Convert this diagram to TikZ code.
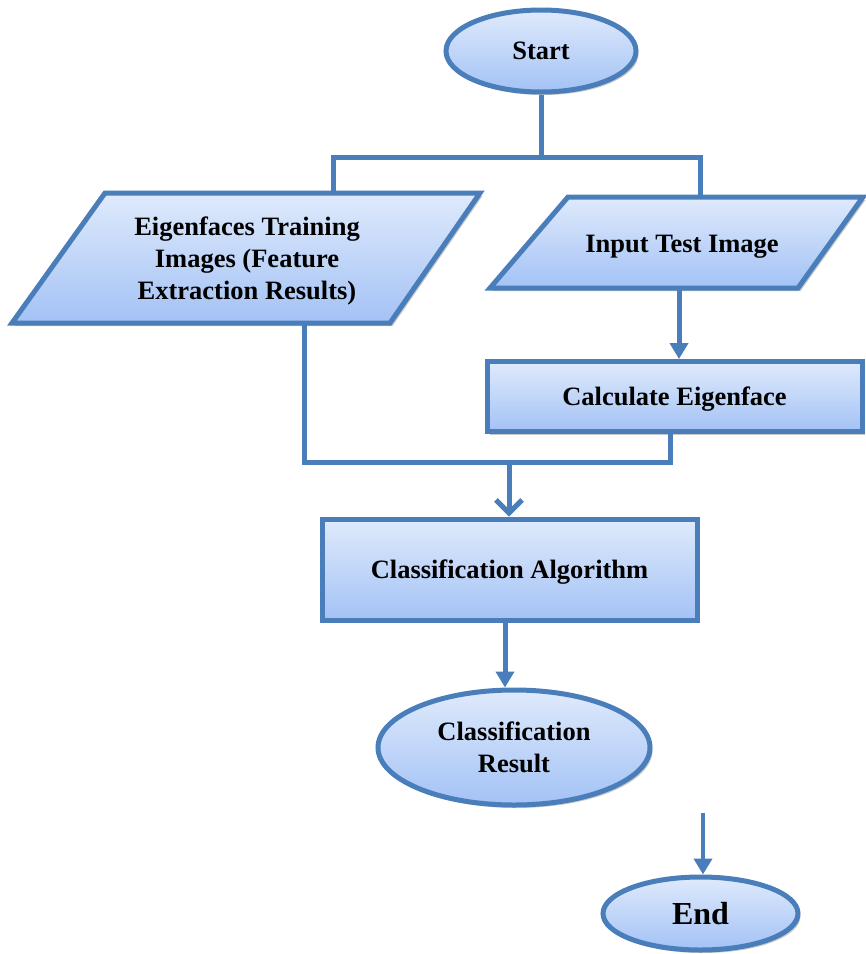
\documentclass[tikz,border=0pt]{standalone}
\usepackage{fontspec}
\setmainfont{Liberation Serif}
\usetikzlibrary{shapes.geometric,arrows.meta,shadows}

\definecolor{edge}{HTML}{4A7EBB}
\definecolor{filltop}{HTML}{DFEAFC}
\definecolor{fillbot}{HTML}{A3C2F5}

\tikzset{
  boxfill/.style={draw=edge, line width=5pt, top color=filltop, bottom color=fillbot,
    drop shadow={shadow xshift=2.5pt, shadow yshift=-3pt, opacity=0.22, fill=black}},
  label text/.style={font=\bfseries\fontsize{26.5}{32}\selectfont, align=center, text=black},
  oneline/.style={text height=17.5pt, text depth=0pt},
  terminal/.style={boxfill, label text, shape=ellipse, inner sep=0pt},
  process/.style={boxfill, label text, shape=rectangle, inner sep=0pt},
  conn/.style={draw=edge, line width=5pt, line join=miter},
  solidtip/.style={conn, -{Triangle[width=18pt,length=16pt]}},
  opentip/.style={conn, -{Straight Barb[width=26pt,length=13pt]}},
}

\begin{document}
\begin{tikzpicture}[x=1pt, y=-1pt]
\useasboundingbox (0,0) rectangle (866,954);

% terminals and processes
\node[terminal, oneline, minimum width=190pt, minimum height=82pt] (start) at (541,51) {Start};
\node[process, oneline, minimum width=375pt, minimum height=70pt] (calc) at (674.5,396.5) {Calculate Eigenface};
\node[process, oneline, minimum width=375pt, minimum height=101pt] (alg) at (509.5,569.5) {Classification Algorithm};
\node[terminal, minimum width=272pt, minimum height=115pt] (res) at (514,747.5) {Classification\\Result};
\node[terminal, minimum width=195pt, minimum height=73pt, font=\bfseries\fontsize{32}{38}\selectfont,
      text height=22pt, text depth=0pt] (fin) at (700.5,913.5) {End};

% input / output parallelograms
\path[boxfill, line join=miter] (105,193) -- (480,193) -- (390,323) -- (12,323) -- cycle;
\node[label text] (train) at (247,261) {Eigenfaces Training\\Images (Feature\\Extraction Results)};
\path[boxfill, line join=miter] (568,197) -- (863,197) -- (798,288) -- (490,288) -- cycle;
\node[label text, oneline] (input) at (682,244) {Input Test Image};

% connector anchor points
\coordinate (split) at (541,157);
\coordinate (splitL) at (333,157);
\coordinate (splitR) at (700,157);
\coordinate (trainTop) at (333,193);
\coordinate (inTop) at (700,197);
\coordinate (trainBot) at (304,323);
\coordinate (inBot) at (679,288);
\coordinate (joinL) at (304,462);
\coordinate (joinR) at (670,462);
\coordinate (joinM) at (509,462);
\coordinate (calcOut) at (670,433);
\coordinate (algOut) at (505,0);
\coordinate (endIn) at (703,813);

% connectors
\draw[conn] (start.south) -- (split);
\draw[conn] (trainTop) -- (splitL) -- (splitR) -- (inTop);
\draw[solidtip] (inBot) -- (calc.north -| inBot);
\draw[conn] (trainBot) -- (joinL) -- (joinR) -- (calcOut);
\draw[opentip] (joinM) -- (alg.north -| joinM);
\draw[solidtip] (alg.south -| algOut) -- (res.north -| algOut);
\draw[solidtip, line width=4.5pt] (endIn) -- (fin.north -| endIn);
\end{tikzpicture}
\end{document}
